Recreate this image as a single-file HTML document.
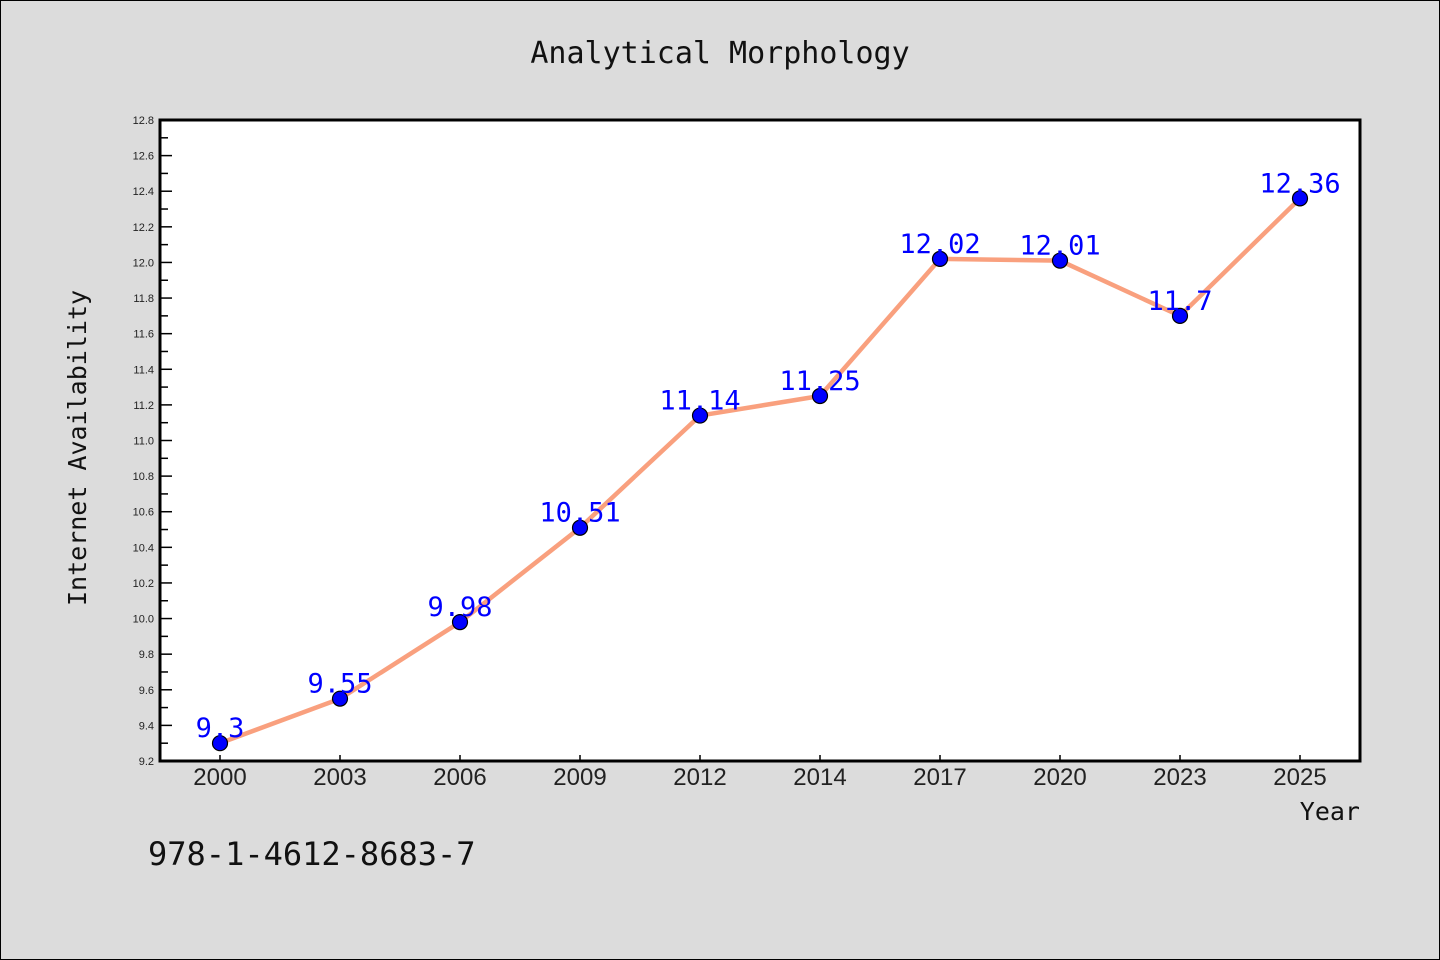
<!DOCTYPE html>
<html><head><meta charset="utf-8"><style>
body{margin:0;background:#dcdcdc;}
svg{display:block;font-family:"Liberation Sans","DejaVu Sans",sans-serif;}
</style></head><body>
<svg id="chart" width="1440" height="960" xmlns="http://www.w3.org/2000/svg">
<rect x="0.5" y="0.5" width="1439" height="959" fill="#dcdcdc" stroke="#000" stroke-width="1"/>
<text x="720" y="63" text-anchor="middle" font-size="30" font-family="DejaVu Sans Mono, monospace" fill="#111">Analytical Morphology</text>
<rect x="160" y="120" width="1200" height="641" fill="#fff"/>
<g id="axes"></g>
<g id="series"></g>
<rect x="160" y="120" width="1200" height="641" fill="none" stroke="#000" stroke-width="3"/>
<text x="86" y="448" transform="rotate(-90 86 448)" text-anchor="middle" font-size="25" font-family="DejaVu Sans Mono, monospace" fill="#111">Internet Availability</text>
<text x="1360" y="820" text-anchor="end" font-size="25" font-family="DejaVu Sans Mono, monospace" fill="#111">Year</text>
<text x="148" y="865" font-size="32" font-family="DejaVu Sans Mono, monospace" fill="#111">978-1-4612-8683-7</text>
</svg>
<script>
const categories=["2000","2003","2006","2009","2012","2014","2017","2020","2023","2025"];
const values=[9.3,9.55,9.98,10.51,11.14,11.25,12.02,12.01,11.7,12.36];
const yTicks=[9.2,9.4,9.6,9.8,10.0,10.2,10.4,10.6,10.8,11.0,11.2,11.4,11.6,11.8,12.0,12.2,12.4,12.6,12.8];
const yMin=9.2,yMax=12.8,L=160,R=1360,T=120,B=761;
const NS="http://www.w3.org/2000/svg";
function y(v){return B-(v-yMin)/(yMax-yMin)*(B-T);}
function x(i){const bw=(R-L)/categories.length;return L+bw*(i+0.5);}
function mk(tag,attrs,parent){const e=document.createElementNS(NS,tag);for(const k in attrs)e.setAttribute(k,attrs[k]);parent.appendChild(e);return e;}
const axes=document.getElementById('axes'),series=document.getElementById('series');
yTicks.forEach((t,i)=>{
  const l=mk('line',{x1:L,x2:L+12,y1:y(t),y2:y(t),stroke:'#000','stroke-width':1.5},axes);
  
  
  const tx=mk('text',{x:L-6,y:y(t)+4,'text-anchor':'end','font-size':11,fill:'#222'},axes);
  tx.textContent=t.toFixed(1);
  
  
  if(i<yTicks.length-1){const m=(t+yTicks[i+1])/2;
    const ml=mk('line',{x1:L,x2:L+8,y1:y(m),y2:y(m),stroke:'#000','stroke-width':1.5},axes);
    
    }
});
categories.forEach((c,i)=>{
  const l=mk('line',{x1:x(i),x2:x(i),y1:B,y2:B-6,stroke:'#000','stroke-width':1.5},axes);
  
  
  const tx=mk('text',{x:x(i),y:B+24,'text-anchor':'middle','font-size':24,fill:'#222'},axes);
  tx.textContent=c;
  
  
});
const line=mk('polyline',{points:values.map((v,i)=>x(i)+','+y(v)).join(' '),fill:'none',stroke:'#f9a07e','stroke-width':4.5},series);


values.forEach((v,i)=>{
  const c=mk('circle',{cx:x(i),cy:y(v),r:7.5,fill:'#0000ff',stroke:'#000','stroke-width':1.2},series);
  
  
  const t=mk('text',{x:x(i),y:y(v)-6,'text-anchor':'middle','font-size':27,fill:'#0000ff','font-family':'DejaVu Sans Mono, monospace'},series);
  t.textContent=String(v);
  
  
});
</script>
</body></html>
